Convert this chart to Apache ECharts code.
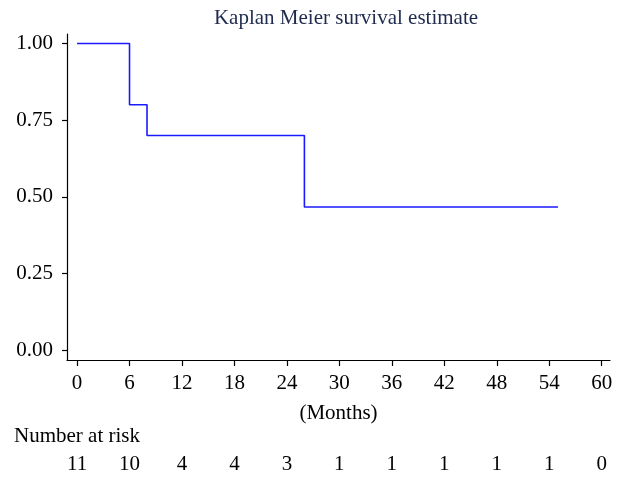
<!DOCTYPE html>
<html>
<head>
<meta charset="utf-8">
<script src="https://cdn.jsdelivr.net/npm/echarts@6/dist/echarts.min.js"></script>
<style>
  html, body { margin: 0; padding: 0; background: #fff; }
  #chart { width: 625px; height: 484px; }
</style>
</head>
<body>
<div id="chart"></div>
<script>
// Kaplan-Meier steps (month, survival)
const kmMonths = [0, 6, 8, 26, 55];
const kmSurvival = [1.0, 0.8, 0.7, 0.4667, 0.4667];

// x ticks and number at risk under each one
const monthTicks = [0, 6, 12, 18, 24, 30, 36, 42, 48, 54, 60];
const atRisk = [11, 10, 4, 4, 3, 1, 1, 1, 1, 1, 0];

const yTicks = [0, 0.25, 0.5, 0.75, 1];

const font = "Liberation Serif";

const chart = echarts.init(document.getElementById("chart"));

const option = {
  animation: false,
  title: {
    text: "Kaplan Meier survival estimate",
    left: 341,
    top: 3,
    textAlign: "center",
    textStyle: { fontFamily: font, fontSize: 21, fontWeight: "normal", color: "#1f2b4d" },
  },
  grid: { left: 67, right: 15, top: 34, bottom: 124 },
  xAxis: [
    {
      type: "value",
      min: -1.15,
      max: 60.95,
      axisLine: { show: true, onZero: false, lineStyle: { color: "#000", width: 1.2 } },
      axisTick: { show: true, length: 6, customValues: monthTicks, lineStyle: { color: "#000", width: 1.2 } },
      axisLabel: {
        customValues: monthTicks,
        margin: 13,
        fontFamily: font,
        fontSize: 21,
        color: "#000",
      },
      splitLine: { show: false },
      name: "(Months)",
      nameLocation: "middle",
      nameGap: 43,
      nameTextStyle: { fontFamily: font, fontSize: 21, color: "#000" },
    },
    {
      type: "value",
      position: "bottom",
      offset: 90,
      min: -1.15,
      max: 60.95,
      axisLine: { show: false },
      axisTick: { show: false },
      axisLabel: {
        customValues: monthTicks,
        margin: 4,
        fontFamily: font,
        fontSize: 21,
        color: "#000",
        formatter: (v) => {
          const i = monthTicks.indexOf(v);
          return i >= 0 ? String(atRisk[i]) : "";
        },
      },
      splitLine: { show: false },
    },
  ],
  yAxis: {
    type: "value",
    min: -0.0326,
    max: 1.031,
    axisLine: { show: true, onZero: false, lineStyle: { color: "#000", width: 1.2 } },
    axisTick: { show: true, length: 5, customValues: yTicks, lineStyle: { color: "#000", width: 1.2 } },
    axisLabel: {
      customValues: yTicks,
      margin: 14,
      fontFamily: font,
      fontSize: 21,
      color: "#000",
      formatter: (v) => v.toFixed(2),
    },
    splitLine: { show: false },
  },
  graphic: [
    {
      type: "text",
      left: 14,
      top: 426,
      style: { text: "Number at risk", fontFamily: font, fontSize: 21, fill: "#000" },
    },
  ],
  series: [
    {
      type: "line",
      step: "end",
      symbol: "none",
      lineStyle: { color: "#1a1aff", width: 1.6 },
      data: kmMonths.map((m, i) => [m, kmSurvival[i]]),
    },
  ],
};

chart.setOption(option);
</script>
</body>
</html>
